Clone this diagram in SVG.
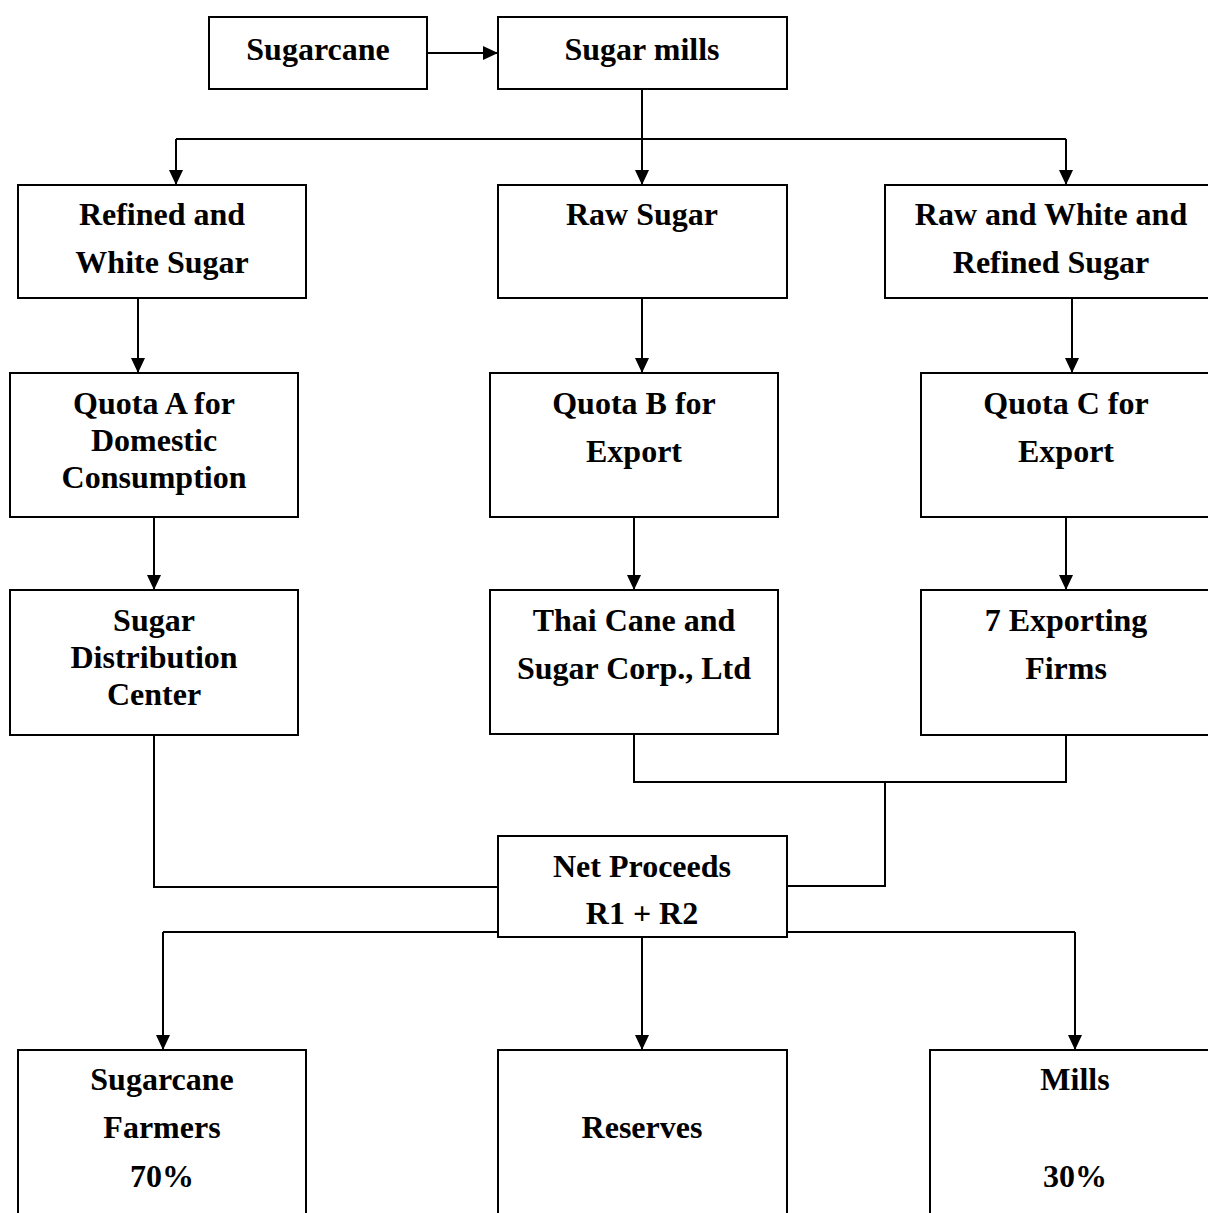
<svg xmlns="http://www.w3.org/2000/svg" width="1208" height="1213" viewBox="0 0 1208 1213">
  <style>
    .box { fill: #ffffff; stroke: #000000; stroke-width: 2; }
    .line { fill: none; stroke: #000000; stroke-width: 2; }
    .arrow { fill: none; stroke: #000000; stroke-width: 2; marker-end: url(#head); }
    text { font-family: "Liberation Serif", "Times New Roman", serif; font-weight: bold; font-size: 32px; fill: #000000; text-anchor: middle; }
  </style>
  <defs>
    <marker id="head" viewBox="0 0 15 14" refX="15" refY="7" markerWidth="15" markerHeight="14" markerUnits="userSpaceOnUse" orient="auto">
      <path d="M0,0 L15,7 L0,14 Z" fill="#000000"/>
    </marker>
  </defs>
  <rect width="1208" height="1213" fill="#ffffff"/>

  <!-- connectors -->
  <g id="connectors">
    <path class="arrow" d="M427,53 H498"/>
    <path class="line" d="M642,89 V139"/>
    <path class="line" d="M176,139 H1066"/>
    <path class="arrow" d="M642,139 V185"/>
    <path class="arrow" d="M176,139 V185"/>
    <path class="arrow" d="M1066,139 V185"/>
    <path class="arrow" d="M138,298 V373"/>
    <path class="arrow" d="M642,298 V373"/>
    <path class="arrow" d="M1072,298 V373"/>
    <path class="arrow" d="M154,517 V590"/>
    <path class="arrow" d="M634,517 V590"/>
    <path class="arrow" d="M1066,517 V590"/>
    <path class="line" d="M154,735 V887 H498"/>
    <path class="line" d="M634,734 V782 H1066 V735"/>
    <path class="line" d="M885,782 V886 H787"/>
    <path class="line" d="M498,932 H163"/>
    <path class="arrow" d="M163,932 V1050"/>
    <path class="arrow" d="M642,937 V1050"/>
    <path class="line" d="M787,932 H1075"/>
    <path class="arrow" d="M1075,932 V1050"/>
  </g>

  <!-- nodes -->
  <g id="sugarcane">
    <rect class="box" x="209" y="17" width="218" height="72"/>
    <text x="318" y="60">Sugarcane</text>
  </g>
  <g id="sugar-mills">
    <rect class="box" x="498" y="17" width="289" height="72"/>
    <text x="642" y="60">Sugar mills</text>
  </g>

  <g id="refined-white">
    <rect class="box" x="18" y="185" width="288" height="113"/>
    <text x="162" y="225">Refined and</text>
    <text x="162" y="273">White Sugar</text>
  </g>
  <g id="raw-sugar">
    <rect class="box" x="498" y="185" width="289" height="113"/>
    <text x="642" y="225">Raw Sugar</text>
  </g>
  <g id="raw-white-refined">
    <rect class="box" x="885" y="185" width="340" height="113"/>
    <text x="1051" y="225">Raw and White and</text>
    <text x="1051" y="273">Refined Sugar</text>
  </g>

  <g id="quota-a">
    <rect class="box" x="10" y="373" width="288" height="144"/>
    <text x="154" y="414">Quota A for</text>
    <text x="154" y="451">Domestic</text>
    <text x="154" y="488">Consumption</text>
  </g>
  <g id="quota-b">
    <rect class="box" x="490" y="373" width="288" height="144"/>
    <text x="634" y="414">Quota B for</text>
    <text x="634" y="462">Export</text>
  </g>
  <g id="quota-c">
    <rect class="box" x="921" y="373" width="300" height="144"/>
    <text x="1066" y="414">Quota C for</text>
    <text x="1066" y="462">Export</text>
  </g>

  <g id="distribution-center">
    <rect class="box" x="10" y="590" width="288" height="145"/>
    <text x="154" y="631">Sugar</text>
    <text x="154" y="668">Distribution</text>
    <text x="154" y="705">Center</text>
  </g>
  <g id="thai-cane">
    <rect class="box" x="490" y="590" width="288" height="144"/>
    <text x="634" y="631">Thai Cane and</text>
    <text x="634" y="679">Sugar Corp., Ltd</text>
  </g>
  <g id="exporting-firms">
    <rect class="box" x="921" y="590" width="300" height="145"/>
    <text x="1066" y="631">7 Exporting</text>
    <text x="1066" y="679">Firms</text>
  </g>

  <g id="net-proceeds">
    <rect class="box" x="498" y="836" width="289" height="101"/>
    <text x="642" y="877">Net Proceeds</text>
    <text x="642" y="924">R1 + R2</text>
  </g>

  <g id="farmers">
    <rect class="box" x="18" y="1050" width="288" height="180"/>
    <text x="162" y="1090">Sugarcane</text>
    <text x="162" y="1138">Farmers</text>
    <text x="162" y="1187">70%</text>
  </g>
  <g id="reserves">
    <rect class="box" x="498" y="1050" width="289" height="180"/>
    <text x="642" y="1138">Reserves</text>
  </g>
  <g id="mills">
    <rect class="box" x="930" y="1050" width="300" height="180"/>
    <text x="1075" y="1090">Mills</text>
    <text x="1075" y="1187">30%</text>
  </g>
</svg>
